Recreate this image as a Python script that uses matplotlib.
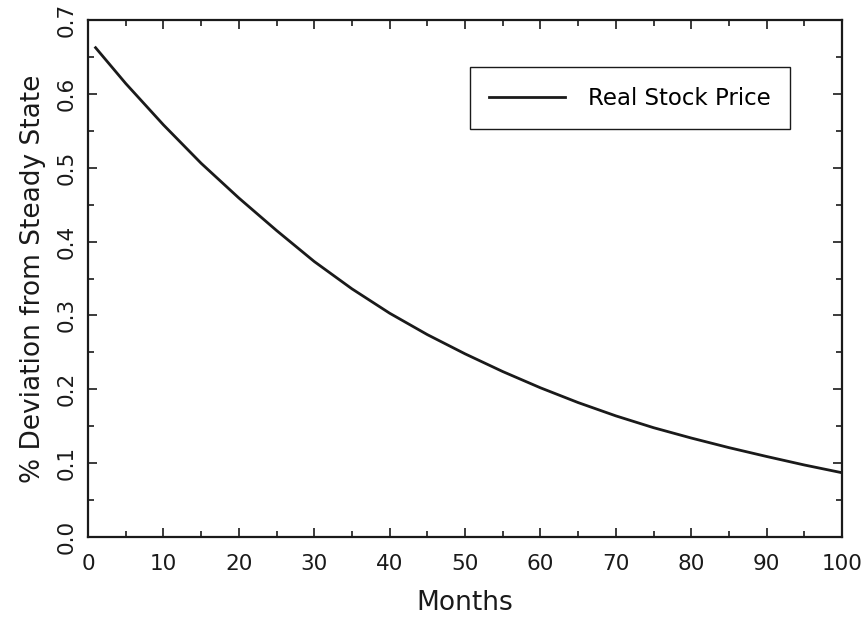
import numpy as np
import matplotlib.pyplot as plt
from matplotlib.ticker import MultipleLocator

# Values
months = [1, 5, 10, 15, 20, 25, 30, 35, 40, 45, 50,
          55, 60, 65, 70, 75, 80, 85, 90, 95, 100]
stock_price = [0.6625, 0.614, 0.558, 0.506, 0.459, 0.415, 0.373, 0.336, 0.303, 0.274, 0.248,
               0.224, 0.202, 0.182, 0.164, 0.148, 0.134, 0.121, 0.109, 0.0975, 0.087]

plt.rcParams["font.family"] = "DejaVu Sans"

fig = plt.figure(figsize=(8.64, 6.25), dpi=100)
ax = fig.add_axes([0.1019, 0.1408, 0.8727, 0.8272])

ax.plot(months, stock_price, color="#1a1a1a", lw=2.0, label="Real Stock Price")

ax.set_xlim(0, 100)
ax.set_ylim(0, 0.7)
ax.xaxis.set_major_locator(MultipleLocator(10))
ax.xaxis.set_minor_locator(MultipleLocator(5))
ax.yaxis.set_major_locator(MultipleLocator(0.1))
ax.yaxis.set_minor_locator(MultipleLocator(0.05))
ax.yaxis.set_major_formatter(plt.FormatStrFormatter("%.1f"))

# inward ticks on all four sides
ax.tick_params(which="both", direction="in", top=True, right=True, width=1.2, color="#1a1a1a")
ax.tick_params(which="major", length=6.5, labelsize=15.5, labelcolor="#1a1a1a")
ax.tick_params(which="minor", length=4.5)
ax.tick_params(axis="x", which="major", pad=12)
ax.tick_params(axis="y", which="major", pad=8)
for lab in ax.get_yticklabels():
    lab.set_rotation(90)
    lab.set_va("center")

for s in ax.spines.values():
    s.set_linewidth(1.6)
    s.set_color("#1a1a1a")

ax.set_xlabel("Months", fontsize=19, color="#1a1a1a", labelpad=12)
ax.set_ylabel("% Deviation from Steady State", fontsize=19, color="#1a1a1a", labelpad=8)

leg = ax.legend(loc="upper right", bbox_to_anchor=(0.931, 0.909), fontsize=16.5,
                handlelength=3.3, fancybox=False, framealpha=1, edgecolor="#1a1a1a",
                borderpad=0.85, borderaxespad=0, handletextpad=1.0)
leg.get_frame().set_linewidth(1.0)

fig.savefig("out.png", dpi=100)
